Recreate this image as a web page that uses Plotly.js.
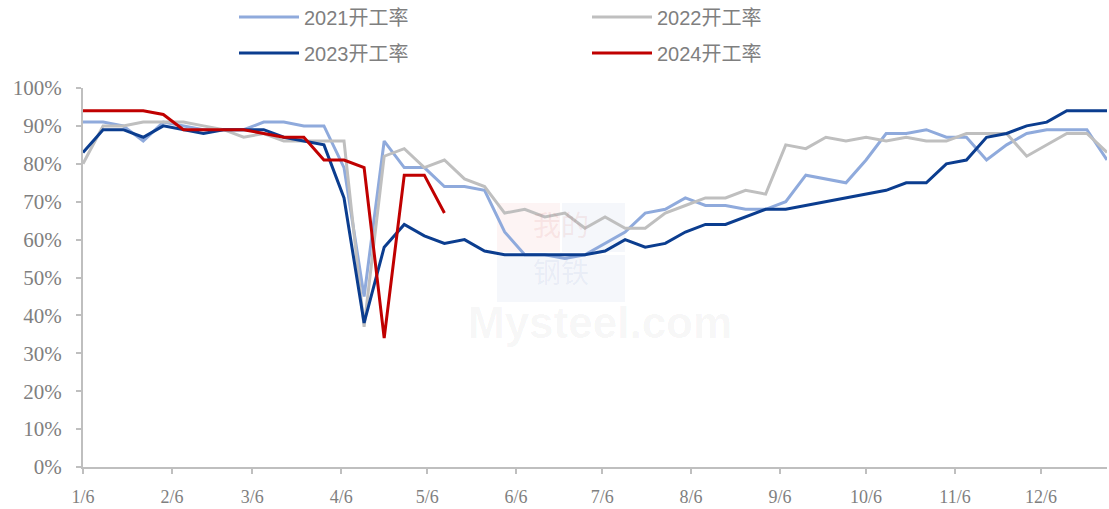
<!DOCTYPE html>
<html>
<head>
<meta charset="utf-8">
<script src="https://cdn.plot.ly/plotly-3.0.1.min.js"></script>
<style>
  html, body { margin: 0; padding: 0; background: #fff; }
  #chart { width: 1109px; height: 509px; }
</style>
</head>
<body>
<div id="chart"></div>
<script>
// Weekly dates (aligned on a common calendar year)
var weeks = [
  '2023-01-06','2023-01-13','2023-01-20','2023-01-27',
  '2023-02-03','2023-02-10','2023-02-17','2023-02-24',
  '2023-03-03','2023-03-10','2023-03-17','2023-03-24','2023-03-31',
  '2023-04-07','2023-04-14','2023-04-21','2023-04-28',
  '2023-05-05','2023-05-12','2023-05-19','2023-05-26',
  '2023-06-02','2023-06-09','2023-06-16','2023-06-23','2023-06-30',
  '2023-07-07','2023-07-14','2023-07-21','2023-07-28',
  '2023-08-04','2023-08-11','2023-08-18','2023-08-25',
  '2023-09-01','2023-09-08','2023-09-15','2023-09-22','2023-09-29',
  '2023-10-06','2023-10-13','2023-10-20','2023-10-27',
  '2023-11-03','2023-11-10','2023-11-17','2023-11-24',
  '2023-12-01','2023-12-08','2023-12-15','2023-12-22','2023-12-29'
];

// Operating rate (%) per week
var rate2021 = [91,91,90,86,91,90,89,89,89,91,91,90,90,79,45,86,79,79,74,74,73,62,56,56,55,56,59,62,67,68,71,69,69,68,68,70,77,76,75,81,88,88,89,87,87,81,85,88,89,89,89,81];
var rate2022 = [80,90,90,91,91,91,90,89,87,88,86,86,86,86,37,82,84,79,81,76,74,67,68,66,67,63,66,63,63,67,69,71,71,73,72,85,84,87,86,87,86,87,86,86,88,88,88,82,85,88,88,83];
var rate2023 = [83,89,89,87,90,89,88,89,89,89,87,86,85,71,38,58,64,61,59,60,57,56,56,56,56,56,57,60,58,59,62,64,64,66,68,68,69,70,71,72,73,75,75,80,81,87,88,90,91,94,94,94];
var rate2024 = [94,94,94,94,93,89,89,89,89,88,87,87,81,81,79,34,77,77,67];

var seriesNames = ['2021开工率','2022开工率','2023开工率','2024开工率'];
var seriesColors = ['#8FAADC','#BFBFBF','#0B3D8F','#C00000'];
var seriesLegend = ['legend','legend','legend2','legend2'];

// X tick labels
var tickDates = ['2023-01-06','2023-02-06','2023-03-06','2023-04-06','2023-05-06','2023-06-06',
                 '2023-07-06','2023-08-06','2023-09-06','2023-10-06','2023-11-06','2023-12-06'];
var tickLabels = ['1/6','2/6','3/6','4/6','5/6','6/6','7/6','8/6','9/6','10/6','11/6','12/6'];

var allRates = [rate2021, rate2022, rate2023, rate2024];
var traces = allRates.map(function (vals, k) {
  return {
    type: 'scatter',
    mode: 'lines',
    name: seriesNames[k],
    legend: seriesLegend[k],
    x: weeks.slice(0, vals.length),
    y: vals.map(function (v) { return v / 100; }),
    line: { color: seriesColors[k], width: 3 },
    hoverinfo: 'skip'
  };
});

var axisGray = '#BFBFBF';
var labelGray = '#7F7F7F';
var serif = '"Liberation Serif", "Times New Roman", serif';

function legendSpec(yCenterPx) {
  return {
    orientation: 'h',
    xref: 'container', yref: 'container',
    x: 234 / 1109, xanchor: 'left',
    y: 1 - yCenterPx / 509, yanchor: 'middle',
    entrywidth: 278, entrywidthmode: 'pixels',
    itemwidth: 60,
    font: { family: '"Liberation Sans", Arial, "Noto Sans CJK SC", sans-serif', size: 20, color: labelGray },
    bgcolor: 'rgba(0,0,0,0)',
    tracegroupgap: 0,
    itemclick: false, itemdoubleclick: false
  };
}

var layout = {
  width: 1109,
  height: 509,
  margin: { l: 83, r: 2, t: 88, b: 42 },
  paper_bgcolor: '#ffffff',
  plot_bgcolor: '#ffffff',
  showlegend: true,
  legend: legendSpec(17),
  legend2: legendSpec(53),
  xaxis: {
    type: 'date',
    range: ['2023-01-06', '2023-12-29'],
    tickmode: 'array',
    tickvals: tickDates,
    ticktext: tickLabels,
    showgrid: false,
    zeroline: false,
    showline: true,
    linecolor: axisGray,
    linewidth: 2,
    ticks: 'outside',
    ticklen: 5,
    tickwidth: 2,
    tickcolor: axisGray,
    ticklabelstandoff: 7,
    tickfont: { family: serif, size: 18, color: labelGray },
    fixedrange: true
  },
  yaxis: {
    range: [0, 1],
    tickmode: 'linear',
    tick0: 0,
    dtick: 0.1,
    tickformat: '.0%',
    showgrid: false,
    zeroline: false,
    showline: true,
    linecolor: axisGray,
    linewidth: 2,
    ticks: 'outside',
    ticklen: 5,
    tickwidth: 2,
    tickcolor: axisGray,
    ticklabelstandoff: 10,
    tickfont: { family: serif, size: 21, color: labelGray },
    fixedrange: true
  },
  shapes: [
    { type: 'rect', xref: 'paper', yref: 'paper', layer: 'below', line: { width: 0 },
      x0: (497 - 83) / 1024, x1: (560 - 83) / 1024, y0: (467 - 252) / 379, y1: (467 - 203) / 379,
      fillcolor: 'rgba(220,60,60,0.06)' },
    { type: 'rect', xref: 'paper', yref: 'paper', layer: 'below', line: { width: 0 },
      x0: (562 - 83) / 1024, x1: (625 - 83) / 1024, y0: (467 - 252) / 379, y1: (467 - 203) / 379,
      fillcolor: 'rgba(60,90,180,0.05)' },
    { type: 'rect', xref: 'paper', yref: 'paper', layer: 'below', line: { width: 0 },
      x0: (497 - 83) / 1024, x1: (625 - 83) / 1024, y0: (467 - 302) / 379, y1: (467 - 255) / 379,
      fillcolor: 'rgba(60,90,180,0.05)' }
  ],
  annotations: [
    { xref: 'paper', yref: 'paper', x: (561 - 83) / 1024, y: (467 - 224) / 379, showarrow: false,
      text: '我的', font: { family: '"Noto Sans CJK SC", sans-serif', size: 28, color: 'rgba(210,80,80,0.10)' } },
    { xref: 'paper', yref: 'paper', x: (561 - 83) / 1024, y: (467 - 271) / 379, showarrow: false,
      text: '钢铁', font: { family: '"Noto Sans CJK SC", sans-serif', size: 28, color: 'rgba(60,90,180,0.08)' } },
    { xref: 'paper', yref: 'paper', x: (600 - 83) / 1024, y: (467 - 322) / 379, showarrow: false,
      text: 'Mysteel.com', font: { family: '"Liberation Sans", Arial, sans-serif', size: 44, color: 'rgba(0,0,0,0.045)', weight: 'bold' } }
  ]
};

Plotly.newPlot('chart', traces, layout, { displayModeBar: false, staticPlot: true });
</script>
</body>
</html>
